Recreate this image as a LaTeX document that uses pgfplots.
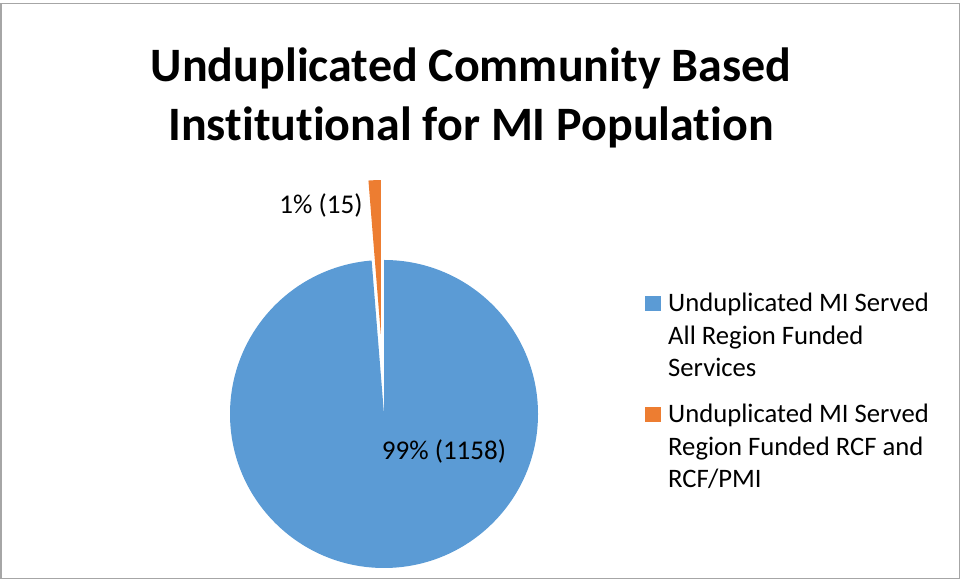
\documentclass[border=0pt]{standalone}
\usepackage{pgfplots}
\pgfplotsset{compat=1.18}
\usepackage{fontspec}
\setmainfont{Carlito}[Ligatures=NoCommon]

\definecolor{pieblue}{HTML}{5B9BD5}
\definecolor{pieorange}{HTML}{ED7D31}
\definecolor{framegray}{HTML}{A6A6A6}

% slice values
\def\vAll{1158}
\def\vRCF{15}

\begin{document}
\begin{tikzpicture}
\pgfmathsetmacro\total{\vAll+\vRCF}
\pgfmathsetmacro\angRCF{360*(\vRCF/\total)}
\pgfmathsetmacro\blueEnd{90-360*(\vAll/\total)}
\pgfmathsetmacro\midRCF{90+\angRCF/2}
\path[use as bounding box] (0,0) rectangle (720pt,435.75pt);
\begin{axis}[
  scale only axis,
  width=720pt, height=435.75pt,
  xmin=0, xmax=960, ymin=0, ymax=581,
  hide axis, clip=false,
  legend style={
    at={(axis cs:645,288)}, anchor=north west,
    draw=none, fill=none, inner sep=0pt,
    row sep=19pt, column sep=6pt,
    nodes={inner sep=0pt, align=left,
      font=\fontsize{20}{24.4}\selectfont},
  },
  legend cell align=left,
]
  % blue slice
  \fill[pieblue] (axis cs:384,167) -- ++(90:115.5pt)
    arc[start angle=90, end angle=\blueEnd, radius=115.5pt] -- cycle;
  % orange slice, pulled out along its bisector
  \fill[pieorange] (axis cs:384,167) ++(\midRCF:60pt) -- ++(90:115.5pt)
    arc[start angle=90, end angle=90+\angRCF, radius=115.5pt] -- cycle;

  \addlegendimage{legend image code/.code={\fill[pieblue] (0pt,19.2pt) rectangle (10.8pt,30pt);}}
  \addlegendentry{Unduplicated MI Served\\All Region Funded\\Services}
  \addlegendimage{legend image code/.code={\fill[pieorange] (0pt,19.2pt) rectangle (10.8pt,30pt);}}
  \addlegendentry{Unduplicated MI Served\\Region Funded RCF and\\RCF/PMI}

  % data labels
  \node[font=\fontsize{20.3}{24.4}\selectfont] at (axis cs:444,130) {99\% (1158)};
  \node[font=\fontsize{20.3}{24.4}\selectfont] at (axis cs:321,376) {1\% (15)};

  % title
  \node[anchor=base, font=\bfseries\fontsize{36}{42}\selectfont] at (axis cs:471,499) {Unduplicated Community Based};
  \node[anchor=base, font=\bfseries\fontsize{36}{42}\selectfont] at (axis cs:471,440) {Institutional for MI Population};

  % chart frame
  \draw[framegray, line width=1pt] (axis cs:1,2.5) rectangle (axis cs:959.5,577.5);
\end{axis}
\end{tikzpicture}
\end{document}
